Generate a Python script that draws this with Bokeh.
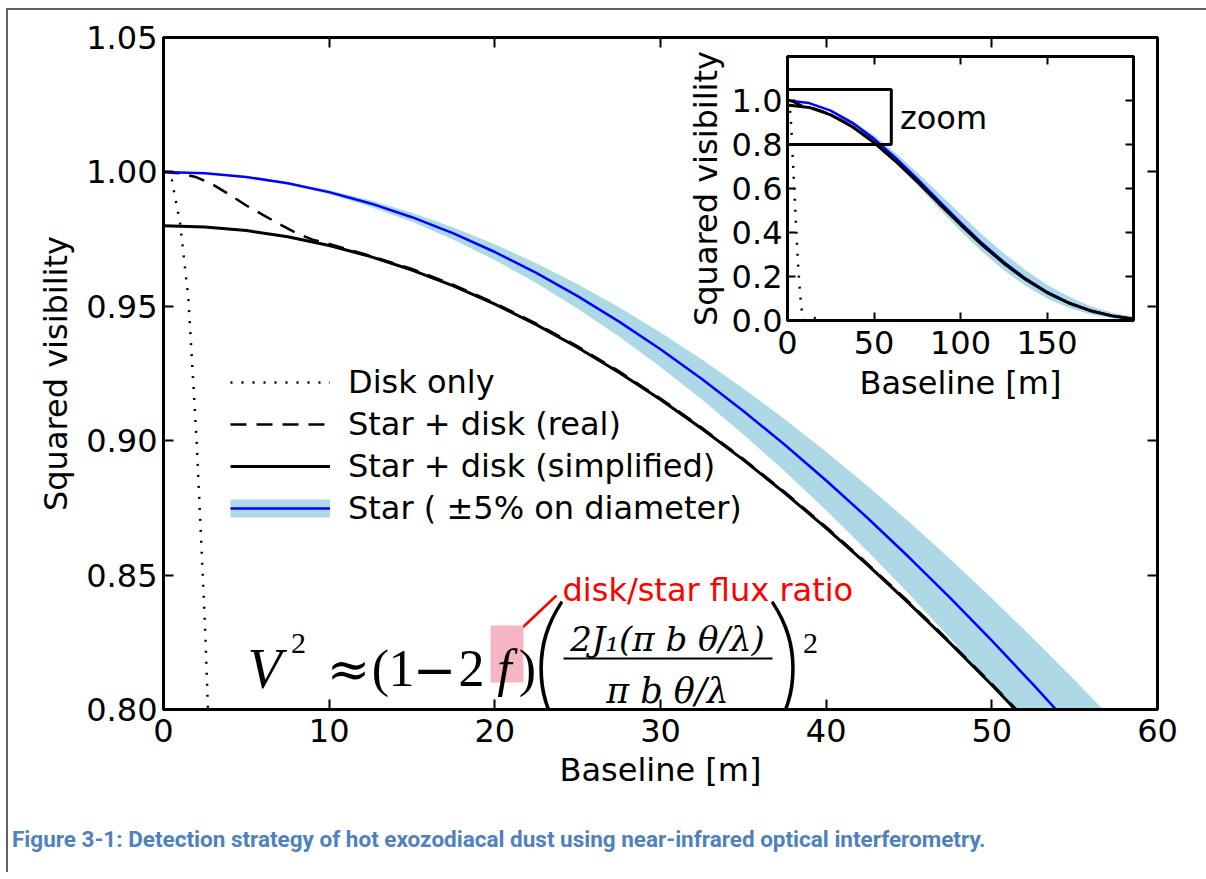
from bokeh.plotting import figure
from bokeh.models import (Range1d, FixedTicker, PrintfTickFormatter, LinearAxis, Legend,
                          LegendItem, Label, BoxAnnotation, CustomJSTickFormatter, Div)
from bokeh.layouts import column
from bokeh.embed import file_html
from bokeh.resources import INLINE

# ---------------- data ----------------
baseline = [0, 2.5, 5, 7.5, 10, 12.5, 15, 17.5, 20, 22.5, 25, 27.5, 30, 32.5, 35, 37.5,
            40, 42.5, 45, 47.5, 50, 52.5, 55, 57.5, 60]
star = [1.0, 0.99953, 0.99812, 0.99577, 0.99248, 0.98827, 0.98315, 0.97711, 0.97020,
        0.96242, 0.95377, 0.94429, 0.93400, 0.92292, 0.91107, 0.89850, 0.88521, 0.87125,
        0.85663, 0.84141, 0.82561, 0.80926, 0.79238, 0.77507, 0.75731]
star_upper = [1.0, 0.99957, 0.99830, 0.99618, 0.99321, 0.98941, 0.98478, 0.97933, 0.97307,
              0.96603, 0.95820, 0.94961, 0.94027, 0.93021, 0.91944, 0.90800, 0.89590,
              0.88316, 0.86981, 0.85589, 0.84141, 0.82641, 0.81090, 0.79496, 0.77857]
star_lower = [1.0, 0.99948, 0.99792, 0.99533, 0.99171, 0.98708, 0.98143, 0.97480, 0.96719,
              0.95863, 0.94913, 0.93873, 0.92745, 0.91531, 0.90234, 0.88860, 0.87410,
              0.85887, 0.84295, 0.82641, 0.80926, 0.79154, 0.77329, 0.75461, 0.73546]
simplified = [0.98, 0.97954, 0.97816, 0.97585, 0.97263, 0.96850, 0.96349, 0.95757, 0.95080,
              0.94317, 0.93469, 0.92540, 0.91532, 0.90446, 0.89285, 0.88053, 0.86751,
              0.85383, 0.83950, 0.82458, 0.80910, 0.79307, 0.77653, 0.75957, 0.74216]

real_baseline = [0, 1, 2, 3, 4, 5, 6, 7, 8, 9, 10, 11, 12, 15, 17.5, 20, 22.5, 25, 27.5,
                 30, 32.5, 35, 37.5, 40, 42.5, 45, 47.5, 50, 52.5, 55, 57.5, 60]
real = [1.0, 0.9995, 0.9980, 0.9952, 0.9915, 0.9875, 0.9840, 0.9806, 0.9773, 0.9748, 0.9732,
        0.9714, 0.9697, 0.9639, 0.9580, 0.9512, 0.9436, 0.9351, 0.9258, 0.9157, 0.9048,
        0.8932, 0.8809, 0.8679, 0.8542, 0.8399, 0.8250, 0.8095, 0.7935, 0.7769, 0.7600,
        0.7425]

disk_baseline = [0, 0.5, 1, 1.5, 2, 2.5, 3, 4, 5, 6, 7, 8, 9, 10, 12, 14, 16, 18, 20, 200]
disk = [1.0, 0.997, 0.981, 0.953, 0.900, 0.832, 0.745, 0.58, 0.42, 0.27, 0.15, 0.06, 0.01,
        0.0, 0.004, 0.010, 0.011, 0.005, 0.0, 0.0]

inset_baseline = [0, 12.5, 25, 37.5, 50, 62.5, 75, 87.5, 100, 112.5, 125, 137.5, 150,
                  162.5, 175, 187.5, 200]
inset_star = [1.0, 0.9883, 0.9538, 0.8985, 0.8256, 0.7386, 0.6439, 0.5436, 0.4451, 0.3509,
              0.2658, 0.1914, 0.1297, 0.0811, 0.0454, 0.0214, 0.0073]
inset_upper = [1.0, 0.9895, 0.9583, 0.9083, 0.8419, 0.7614, 0.6732, 0.5782, 0.4836, 0.3914,
               0.3058, 0.2292, 0.1627, 0.1087, 0.0664, 0.0354, 0.0186]
inset_lower = [1.0, 0.9871, 0.9493, 0.8887, 0.8093, 0.7158, 0.6146, 0.5090, 0.4070, 0.3127,
               0.2283, 0.1577, 0.1005, 0.0575, 0.0288, 0.0100, 0.0012]
inset_simplified = [0.98, 0.9685, 0.9347, 0.8805, 0.8091, 0.7238, 0.6310, 0.5327, 0.4362,
                    0.3439, 0.2605, 0.1876, 0.1271, 0.0795, 0.0445, 0.0210, 0.0072]

x_ticks = [0, 10, 20, 30, 40, 50, 60]
y_ticks = [0.80, 0.85, 0.90, 0.95, 1.00, 1.05]
inset_x_ticks = [0, 50, 100, 150]
inset_y_ticks = [0.0, 0.2, 0.4, 0.6, 0.8, 1.0]

legend_labels = ["Disk only", "Star + disk (real)", "Star + disk (simplified)",
                 "Star ( \u00b15% on diameter)"]
x_label = "Baseline [m]"
y_label = "Squared visibility"
flux_note = "disk/star flux ratio"
caption = ("Figure 3-1: Detection strategy of hot exozodiacal dust using near-infrared "
           "optical interferometry.")

# ---------------- styling ----------------
FONT = "DejaVu Sans"
SERIF = "Liberation Serif"
DSERIF = "DejaVu Serif"
FS = "32px"
BLUE = "#0000ff"
BAND = "#add8e6"
BL, BR, BT = 155, 41, 27          # main plot borders (inset shares the horizontal ones)


# page-pixel -> data helpers for annotation placement (main frame: x 163..1157, y 37..709)
def dx(px):
    return (px - 163) / 994 * 60


def dy(py):
    return 1.05 - (py - 37) / 672 * 0.25


def style_axis(ax, ticks, fmt, show_labels=True, tick_len=10, standoff=8):
    ax.ticker = FixedTicker(ticks=ticks)
    if show_labels:
        ax.formatter = PrintfTickFormatter(format=fmt)
    else:
        ax.formatter = CustomJSTickFormatter(code="return ''")
    ax.major_tick_in = tick_len
    ax.major_tick_out = 0
    ax.major_tick_line_width = 2
    ax.major_tick_line_color = "black"
    ax.minor_tick_line_color = None
    ax.axis_line_width = 3
    ax.axis_line_color = "black"
    ax.major_label_text_font = FONT
    ax.major_label_text_font_size = FS
    ax.major_label_text_color = "black"
    ax.major_label_standoff = standoff
    ax.axis_label_text_font = FONT
    ax.axis_label_text_font_size = FS
    ax.axis_label_text_font_style = "normal"
    ax.axis_label_text_color = "black"


# ---------------- main figure ----------------
p = figure(width=BL + 994 + BR, height=BT + 672 + 105, x_range=Range1d(0, 60),
           y_range=Range1d(0.80, 1.05), output_backend="svg", toolbar_location=None,
           min_border_left=BL, min_border_right=BR, min_border_top=BT, min_border_bottom=105,
           background_fill_color="white", border_fill_color="white")
p.grid.visible = False
p.outline_line_color = "black"
p.outline_line_width = 3

style_axis(p.xaxis[0], x_ticks, "%d", standoff=9)
p.xaxis[0].axis_label = x_label
p.xaxis[0].axis_label_standoff = 6
style_axis(p.yaxis[0], y_ticks, "%.2f", standoff=6)
p.yaxis[0].axis_label = y_label
p.yaxis[0].axis_label_standoff = 8

top_ax = LinearAxis()
style_axis(top_ax, x_ticks, "%d", show_labels=False)
p.add_layout(top_ax, "above")
right_ax = LinearAxis()
style_axis(right_ax, y_ticks, "%.2f", show_labels=False)
p.add_layout(right_ax, "right")

p.varea(x=baseline, y1=star_lower, y2=star_upper, fill_color=BAND, fill_alpha=1.0)
r_simpl = p.line(baseline, simplified, line_color="black", line_width=3)
r_real = p.line(real_baseline, real, line_color="black", line_width=2.5, line_dash="16 10")
r_disk = p.line(disk_baseline, disk, line_color="black", line_width=2.5, line_dash="2 9")
r_star = p.line(baseline, star, line_color=BLUE, line_width=2.5)
# legend proxy for the band (lies outside the visible y range)
r_band_leg = p.line(x=[baseline[0], baseline[-1]], y=[0, 0], line_color=BAND, line_width=18)

legend = Legend(items=[
    LegendItem(label=legend_labels[0], renderers=[r_disk]),
    LegendItem(label=legend_labels[1], renderers=[r_real]),
    LegendItem(label=legend_labels[2], renderers=[r_simpl]),
    LegendItem(label=legend_labels[3], renderers=[r_band_leg, r_star]),
], location=(67, 182), border_line_color=None, background_fill_alpha=0,
    label_text_font=FONT, label_text_font_size=FS, label_text_color="black",
    glyph_width=100, glyph_height=36, label_height=36, spacing=4, padding=0, margin=0,
    label_standoff=18)
p.add_layout(legend, "center")

# equation annotation
p.add_layout(BoxAnnotation(left=dx(490), right=dx(523), top=dy(625), bottom=dy(682),
                           fill_color="#f4b6c2", fill_alpha=1.0, line_color=None))
p.line([dx(521), dx(556)], [dy(628), dy(595)], line_color="red", line_width=2.5)


def txt(fig, s, px, py, size, font=SERIF, style="normal", color="black", align="center",
        base="alphabetic"):
    fig.add_layout(Label(x=dx(px), y=dy(py), text=s, text_font=font, text_font_size=size,
                         text_font_style=style, text_color=color, text_align=align,
                         text_baseline=base))


txt(p, "V", 264, 668, "56px", style="italic")
txt(p, "2", 298, 643, "30px")
txt(p, "\u2248", 348, 668, "52px", font=DSERIF)
txt(p, "(", 380, 668, "52px")
txt(p, "1", 401, 668, "52px")
txt(p, "\u2212", 434, 668, "52px", font=DSERIF)
txt(p, "2", 471, 668, "52px")
txt(p, "f", 504, 668, "52px", style="italic")
txt(p, ")", 527, 668, "52px")
txt(p, "(", 549, 657, "154px", font="Lato Thin")
txt(p, "2J\u2081(\u03c0 b \u03b8/\u03bb)", 667, 638, "34px", font=DSERIF, style="italic")
p.line([dx(563), dx(772)], [dy(658), dy(658)], line_color="black", line_width=2)
txt(p, "\u03c0 b \u03b8/\u03bb", 667, 690, "35px", font=DSERIF, style="italic")
txt(p, ")", 784, 657, "154px", font="Lato Thin")
txt(p, "2", 810, 643, "30px")
txt(p, flux_note, 562, 589, "32px", font=FONT, color="red", align="left", base="middle")

# caption
cap = Div(text=caption, width=1190,
          styles={"margin-top": "14px", "margin-left": "4px", "margin-bottom": "22px",
                  "font-family": "'Liberation Sans Narrow', 'Roboto', sans-serif",
                  "font-size": "22.5px", "font-weight": "bold", "color": "#4f81bd",
                  "line-height": "22px", "white-space": "nowrap"})

# ---------------- inset ----------------
p2 = figure(width=BL + 346 + BR, height=6 + 268 + 80, x_range=Range1d(0, 200),
            y_range=Range1d(0, 1.2), output_backend="svg", toolbar_location=None,
            min_border_left=BL, min_border_right=BR, min_border_top=6, min_border_bottom=80,
            background_fill_alpha=0, border_fill_alpha=0)
p2.grid.visible = False
p2.outline_line_color = "black"
p2.outline_line_width = 3
style_axis(p2.xaxis[0], inset_x_ticks, "%d", tick_len=8, standoff=10)
p2.xaxis[0].axis_label = x_label
p2.xaxis[0].axis_label_standoff = 7
style_axis(p2.yaxis[0], inset_y_ticks, "%.1f", tick_len=8, standoff=5)
p2.yaxis[0].axis_label = y_label
p2.yaxis[0].axis_label_standoff = 4
t2 = LinearAxis()
style_axis(t2, inset_x_ticks, "%d", show_labels=False, tick_len=8)
p2.add_layout(t2, "above")
r2 = LinearAxis()
style_axis(r2, inset_y_ticks, "%.1f", show_labels=False, tick_len=8)
p2.add_layout(r2, "right")

p2.varea(x=inset_baseline, y1=inset_lower, y2=inset_upper, fill_color=BAND, fill_alpha=1.0)
p2.line(inset_baseline, inset_star, line_color=BLUE, line_width=2.5)
p2.line(inset_baseline, inset_simplified, line_color="black", line_width=3)
p2.line(real_baseline, real, line_color="black", line_width=2.5, line_dash="16 10")
p2.line(disk_baseline, disk, line_color="black", line_width=2.5, line_dash="2 9")
p2.add_layout(BoxAnnotation(left=0, right=60, bottom=0.80, top=1.05, fill_alpha=0,
                            line_color="black", line_alpha=1.0, line_width=3))
p2.add_layout(Label(x=65, y=0.92, text="zoom", text_font=FONT, text_font_size=FS,
                    text_align="left", text_baseline="middle", text_color="black"))

# inset frame at page x 787, y 56; column content origin at page (8, 10)
p2.styles = {"position": "absolute", "left": f"{787 - BL - 8}px", "top": f"{56 - 6 - 10}px"}

layout = column(p, cap, p2, styles={"margin-top": "8px", "margin-left": "6px",
                                    "border-top": "2px solid #606060",
                                    "border-left": "2px solid #606060"})

open("out.html", "w").write(file_html(layout, INLINE))
